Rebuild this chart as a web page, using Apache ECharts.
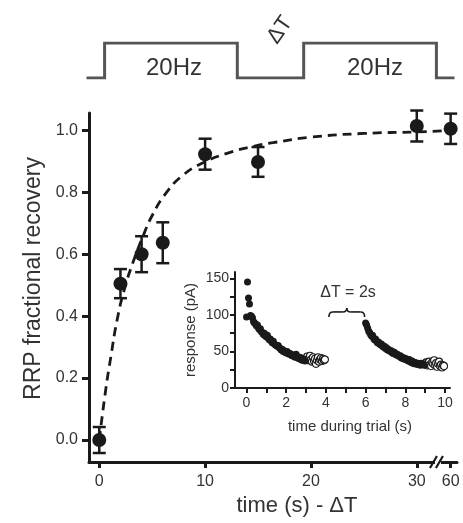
<!DOCTYPE html>
<html>
<head>
<meta charset="utf-8">
<script src="https://cdn.jsdelivr.net/npm/echarts@6.0.0/dist/echarts.min.js"></script>
<style>
  html, body { margin: 0; padding: 0; background: #fff; }
  #main { width: 463px; height: 523px; }
</style>
</head>
<body>
<div id="main"></div>
<script>
// RRP recovery after a 20Hz train, plotted against the rest interval (ΔT)
var recTime = [0, 2, 4, 6, 10, 15, 30, 60];
var recMean = [0.00, 0.505, 0.60, 0.637, 0.923, 0.898, 1.014, 1.005];
var recErr  = [0.042, 0.047, 0.058, 0.066, 0.050, 0.048, 0.050, 0.049];

// dashed fit
var fitTime  = [0, 0.6, 1.1, 1.7, 2.4, 3.2, 4.1, 5.0, 6.3, 7.9, 9.8, 12, 14.5, 16.4, 20, 25, 30, 33.8];
var fitValue = [0, 0.16, 0.27, 0.39, 0.49, 0.575, 0.655, 0.725, 0.797, 0.855, 0.895, 0.925, 0.948, 0.96, 0.978, 0.99, 0.995, 1.0];

var mainXTicks = [0, 10, 20, 30, 60];
var mainYTicks = [0, 0.2, 0.4, 0.6, 0.8, 1.0];

// inset: response during the trial (20Hz -> one point every 50 ms)
var trainATime = [0.00,0.05,0.10,0.15,0.20,0.25,0.30,0.35,0.40,0.45,0.50,0.55,0.60,0.65,0.70,0.75,0.80,0.85,0.90,0.95,
                  1.00,1.05,1.10,1.15,1.20,1.25,1.30,1.35,1.40,1.45,1.50,1.55,1.60,1.65,1.70,1.75,1.80,1.85,1.90,1.95,
                  2.00,2.05,2.10,2.15,2.20,2.25,2.30,2.35,2.40,2.45,2.50,2.55,2.60,2.65,2.70,2.75,2.80,2.85,2.90,2.95];
var trainAResp = [97,145,123,115,99,98,96,91,89,88,85,86,82,80,81,77,76,73,75,71,
                  70,72,68,66,67,64,62,64,60,59,58,57,58,55,54,52,53,50,51,49,
                  48,50,47,46,47,45,44,45,43,42,46,42,41,40,42,39,38,40,38,37];
var tailATime = [3.00,3.05,3.10,3.15,3.20,3.25,3.30,3.35,3.40,3.45,3.50,3.55,3.60,3.65,3.70,3.75,3.80,3.85,3.90,3.95];
var tailAResp = [40,43,38,41,44,39,36,42,37,40,33,38,42,36,39,41,37,40,38,39];

var trainBTime = [6.00,6.05,6.10,6.15,6.20,6.25,6.30,6.35,6.40,6.45,6.50,6.55,6.60,6.65,6.70,6.75,6.80,6.85,6.90,6.95,
                  7.00,7.05,7.10,7.15,7.20,7.25,7.30,7.35,7.40,7.45,7.50,7.55,7.60,7.65,7.70,7.75,7.80,7.85,7.90,7.95,
                  8.00,8.05,8.10,8.15,8.20,8.25,8.30,8.35,8.40,8.45,8.50,8.55,8.60,8.65,8.70,8.75,8.80,8.85,8.90,8.95];
var trainBResp = [89,86,82,78,76,73,71,72,68,66,67,64,62,63,60,59,60,57,56,57,
                  54,55,52,53,51,50,51,48,47,49,46,45,46,44,43,44,41,42,40,41,
                  39,40,38,37,39,36,35,37,34,33,35,34,32,34,33,31,34,32,33,31];
var tailBTime = [9.00,9.05,9.10,9.15,9.20,9.25,9.30,9.35,9.40,9.45,9.50,9.55,9.60,9.65,9.70,9.75,9.80,9.85,9.90,9.95];
var tailBResp = [33,35,31,34,36,32,30,35,33,38,31,34,29,33,36,30,32,28,31,30];

var insetXTicks = [0, 1, 2, 3, 4, 5, 6, 7, 8, 9, 10];
var insetXLabels = [0, 2, 4, 6, 8, 10];
var insetYTicks = [0, 25, 50, 75, 100, 125, 150];
var insetYLabels = [0, 50, 100, 150];
var gapSpan = [4.15, 5.95];   // the ΔT brace, in trial time

// stimulus schematic on top
var stimTime  = [0, 1, 1, 9, 9, 13, 13, 21, 21, 22];
var stimLevel = [0, 0, 1, 1, 0, 0, 1, 1, 0, 0];

var FONT = 'Liberation Sans';
var INK = '#1a1a1a';
var TXT = '#333';

// the 60 s point sits just past the axis break
function brokenX(t) { return t > 31 ? 33.2 : t; }

function pairs(xs, ys) {
  return xs.map(function (x, i) { return [x, ys[i]]; });
}

var chart = echarts.init(document.getElementById('main'), null, { renderer: 'canvas' });

var recData = recTime.map(function (t, i) { return [brokenX(t), recMean[i]]; });
var errData = recTime.map(function (t, i) { return [brokenX(t), recMean[i] - recErr[i], recMean[i] + recErr[i]]; });

function errorBar(params, api) {
  var lo = api.coord([api.value(0), api.value(1)]);
  var hi = api.coord([api.value(0), api.value(2)]);
  var w = 6.5;
  var st = { stroke: INK, lineWidth: 2.5 };
  return {
    type: 'group',
    children: [
      { type: 'line', shape: { x1: lo[0], y1: lo[1], x2: hi[0], y2: hi[1] }, style: st },
      { type: 'line', shape: { x1: lo[0] - w, y1: lo[1], x2: lo[0] + w, y2: lo[1] }, style: st },
      { type: 'line', shape: { x1: hi[0] - w, y1: hi[1], x2: hi[0] + w, y2: hi[1] }, style: st }
    ]
  };
}

function axisBreak(params, api) {
  var p = api.coord([api.value(0), api.value(1)]);
  var st = { stroke: INK, lineWidth: 2.2 };
  return {
    type: 'group',
    children: [
      { type: 'rect', shape: { x: p[0] - 3, y: p[1] - 3, width: 6, height: 6 }, style: { fill: '#fff' } },
      { type: 'line', shape: { x1: p[0] - 8, y1: p[1] + 6, x2: p[0] - 1, y2: p[1] - 6 }, style: st },
      { type: 'line', shape: { x1: p[0] - 2, y1: p[1] + 6, x2: p[0] + 5, y2: p[1] - 6 }, style: st }
    ]
  };
}

function brace(params, api) {
  var a = api.coord([api.value(0), api.value(2)]);
  var b = api.coord([api.value(1), api.value(2)]);
  var y = a[1], x1 = a[0], x2 = b[0], xm = (x1 + x2) / 2, r = 4;
  var st = { stroke: INK, lineWidth: 1.6, fill: null };
  return {
    type: 'group',
    children: [
      { type: 'bezierCurve', shape: { x1: x1, y1: y + r + 1, x2: x1 + r, y2: y, cpx1: x1, cpy1: y }, style: st },
      { type: 'line', shape: { x1: x1 + r, y1: y, x2: xm - r, y2: y }, style: st },
      { type: 'bezierCurve', shape: { x1: xm - r, y1: y, x2: xm, y2: y - r, cpx1: xm, cpy1: y }, style: st },
      { type: 'bezierCurve', shape: { x1: xm, y1: y - r, x2: xm + r, y2: y, cpx1: xm, cpy1: y }, style: st },
      { type: 'line', shape: { x1: xm + r, y1: y, x2: x2 - r, y2: y }, style: st },
      { type: 'bezierCurve', shape: { x1: x2 - r, y1: y, x2: x2, y2: y + r + 1, cpx1: x2, cpy1: y }, style: st }
    ]
  };
}

var mainXMin = -0.97, mainXMax = 33.8, mainYMin = -0.071, mainYMax = 1.056;

function label(text, x, y, size, rot) {
  return {
    type: 'text', x: x, y: y, rotation: rot || 0,
    style: { text: text, font: size + 'px "Liberation Sans"', fill: TXT,
             align: 'center', verticalAlign: 'middle', textAlign: 'center', textVerticalAlign: 'middle' }
  };
}

var option = {
  animation: false,
  backgroundColor: '#fff',
  textStyle: { fontFamily: FONT },
  grid: [
    { left: 89, top: 113, width: 368, height: 349 },
    { left: 235, top: 272, width: 215, height: 116 },
    { left: 88, top: 43, width: 365, height: 35 }
  ],
  xAxis: [
    {
      gridIndex: 0, type: 'value', min: mainXMin, max: mainXMax,
      name: 'time (s) - ΔT', nameLocation: 'middle', nameGap: 29,
      nameTextStyle: { fontSize: 22, color: TXT, fontFamily: FONT, padding: [0, 0, 0, 48] },
      axisLine: { onZero: false, lineStyle: { color: INK, width: 3 } },
      axisTick: { length: 6, lineStyle: { color: INK, width: 3 }, customValues: mainXTicks.map(brokenX) },
      axisLabel: {
        fontSize: 16, color: TXT, fontFamily: FONT, margin: 12,
        customValues: mainXTicks.map(brokenX),
        formatter: function (v) { return v > 31 ? '60' : String(Math.round(v)); }
      },
      splitLine: { show: false }
    },
    {
      gridIndex: 1, type: 'value', min: -0.58, max: 10.25,
      name: 'time during trial (s)', nameLocation: 'middle', nameGap: 31,
      nameTextStyle: { fontSize: 15, color: TXT, fontFamily: FONT, padding: [0, 0, 0, 15] },
      axisLine: { onZero: false, lineStyle: { color: INK, width: 2 } },
      axisTick: { length: 5, lineStyle: { color: INK, width: 2 }, customValues: insetXTicks },
      axisLabel: { fontSize: 14, color: TXT, fontFamily: FONT, margin: 8, customValues: insetXLabels },
      splitLine: { show: false }
    },
    { gridIndex: 2, type: 'value', min: 0, max: 22, show: false }
  ],
  yAxis: [
    {
      gridIndex: 0, type: 'value', min: mainYMin, max: mainYMax,
      name: 'RRP fractional recovery', nameLocation: 'middle', nameGap: 44,
      nameTextStyle: { fontSize: 23, color: TXT, fontFamily: FONT, padding: [0, 0, 0, 18] },
      axisLine: { onZero: false, lineStyle: { color: INK, width: 3 } },
      axisTick: { length: 7, lineStyle: { color: INK, width: 3 }, customValues: mainYTicks },
      axisLabel: {
        fontSize: 16, color: TXT, fontFamily: FONT, margin: 11,
        customValues: mainYTicks,
        formatter: function (v) { return v.toFixed(1); }
      },
      splitLine: { show: false }
    },
    {
      gridIndex: 1, type: 'value', min: 0, max: 158.6,
      name: 'response (pA)', nameLocation: 'middle', nameGap: 37,
      nameTextStyle: { fontSize: 15, color: TXT, fontFamily: FONT },
      axisLine: { onZero: false, lineStyle: { color: INK, width: 2 } },
      axisTick: { length: 5, lineStyle: { color: INK, width: 2 }, customValues: insetYTicks },
      axisLabel: { fontSize: 14, color: TXT, fontFamily: FONT, margin: 6, customValues: insetYLabels },
      splitLine: { show: false }
    },
    { gridIndex: 2, type: 'value', min: 0, max: 1, show: false }
  ],
  series: [
    {
      type: 'line', xAxisIndex: 0, yAxisIndex: 0,
      data: pairs(fitTime, fitValue),
      smooth: 0.5, showSymbol: false,
      lineStyle: { color: INK, width: 2.8, type: [9, 6] },
      z: 2
    },
    {
      type: 'custom', xAxisIndex: 0, yAxisIndex: 0,
      data: errData, renderItem: errorBar, z: 3
    },
    {
      type: 'scatter', xAxisIndex: 0, yAxisIndex: 0,
      data: recData, symbolSize: 14,
      itemStyle: { color: INK, opacity: 1 }, z: 4
    },
    {
      type: 'custom', xAxisIndex: 0, yAxisIndex: 0,
      data: [[32.0, mainYMin]], renderItem: axisBreak, z: 5
    },
    {
      type: 'scatter', xAxisIndex: 1, yAxisIndex: 1,
      data: pairs(tailATime, tailAResp).concat(pairs(tailBTime, tailBResp)),
      symbolSize: 7,
      itemStyle: { color: '#fff', borderColor: INK, borderWidth: 1.1, opacity: 1 }, z: 3
    },
    {
      type: 'scatter', xAxisIndex: 1, yAxisIndex: 1,
      data: pairs(trainATime, trainAResp).concat(pairs(trainBTime, trainBResp)),
      symbolSize: 7,
      itemStyle: { color: INK, opacity: 1 }, z: 4
    },
    {
      type: 'custom', xAxisIndex: 1, yAxisIndex: 1,
      data: [[gapSpan[0], gapSpan[1], 104]], renderItem: brace, z: 5
    },
    {
      type: 'line', xAxisIndex: 2, yAxisIndex: 2,
      data: pairs(stimTime, stimLevel), showSymbol: false,
      lineStyle: { color: '#555', width: 3, cap: 'square', join: 'miter' }
    }
  ],
  graphic: [
    label('20Hz', 174, 68, 24),
    label('20Hz', 375, 68, 24),
    label('ΔT', 280, 30, 22, 55 * Math.PI / 180),
    label('ΔT = 2s', 348, 293, 16)
  ]
};

chart.setOption(option);
</script>
</body>
</html>
